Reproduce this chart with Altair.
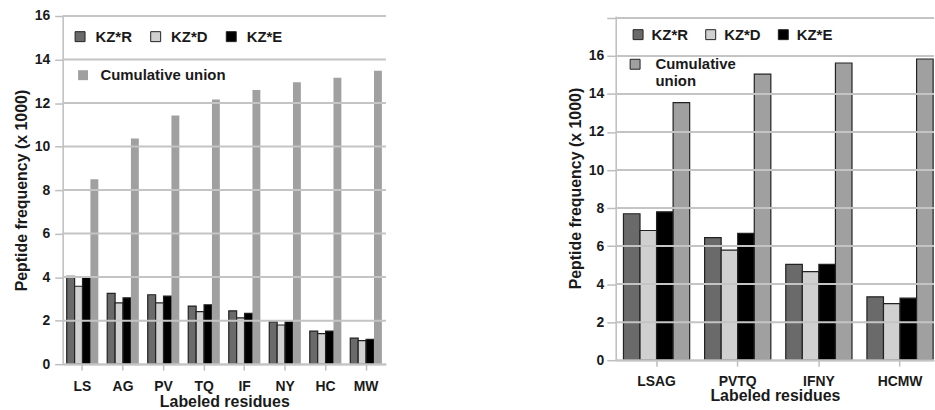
import altair as alt
import pandas as pd

series = ["KZ*R", "KZ*D", "KZ*E", "Cumulative union"]
fill_colors = ["#6a6a6a", "#d0d0d0", "#000000", "#a0a0a0"]

left_cats = ["LS", "AG", "PV", "TQ", "IF", "NY", "HC", "MW"]
left_r = [4.04, 3.25, 3.19, 2.67, 2.45, 1.94, 1.52, 1.20]
left_d = [3.58, 2.82, 2.82, 2.41, 2.13, 1.80, 1.40, 1.08]
left_e = [3.99, 3.05, 3.13, 2.73, 2.33, 1.95, 1.52, 1.14]
left_cum = [8.50, 10.37, 11.43, 12.16, 12.60, 12.96, 13.16, 13.49]
left_ticks = [0, 2, 4, 6, 8, 10, 12, 14, 16]

right_cats = ["LSAG", "PVTQ", "IFNY", "HCMW"]
right_r = [7.70, 6.44, 5.04, 3.33]
right_d = [6.82, 5.79, 4.66, 2.97]
right_e = [7.80, 6.67, 5.04, 3.26]
right_cum = [13.54, 15.04, 15.63, 15.84]
right_ticks = [0, 2, 4, 6, 8, 10, 12, 14, 16, 18]


def long_df(cats, cols, names):
    rows = []
    for s, vals in zip(names, cols):
        for c, v in zip(cats, vals):
            rows.append({"cat": c, "series": s, "value": v})
    return pd.DataFrame(rows)


l_kz = long_df(left_cats, [left_r, left_d, left_e], series[:3])
l_cu = long_df(left_cats, [left_cum], series[3:])
r_kz = long_df(right_cats, [right_r, right_d, right_e], series[:3])
r_cu = long_df(right_cats, [right_cum], series[3:])

TXT = "#1a1a1a"
GRID = "#c4c4c4"
AX = "#bdbdbd"
EDGE = "#222222"


def legend_spec(x, y, col_pad, offset, label_expr=None):
    kw = dict(
        title=None, orient="none", legendX=x, legendY=y,
        direction="horizontal", columnPadding=col_pad,
        symbolType="square", symbolSize=100, symbolStrokeWidth=1,
        labelFontSize=15, labelFontWeight="bold", labelColor=TXT,
        labelFont="Liberation Sans", labelOffset=offset, padding=0,
        labelLimit=300,
    )
    if label_expr:
        kw["labelExpr"] = label_expr
    return alt.Legend(**kw)


def panel(kz, cu, cats, ticks, xscale, xaxis, yscale, yaxis, leg1, leg2,
          cum_stroke, w, h):
    x = alt.X("cat:N", sort=cats, scale=xscale, axis=xaxis)
    xo = alt.XOffset("series:N", sort=series, scale=alt.Scale(domain=series))
    y = alt.Y("value:Q", scale=yscale, axis=yaxis)
    grid = alt.Chart(pd.DataFrame({"value": ticks})).mark_rule(
        stroke=GRID, strokeWidth=2
    ).encode(y=y, x=alt.value(0), x2=alt.value(w))
    a = alt.Chart(kz).mark_bar(stroke=EDGE, strokeWidth=1.2).encode(
        x=x, xOffset=xo, y=y,
        color=alt.Color("series:N", sort=series[:3],
                        scale=alt.Scale(domain=series[:3], range=fill_colors[:3]),
                        legend=leg1),
    )
    bkw = {}
    if cum_stroke:
        bkw.update(stroke=EDGE, strokeWidth=1.2)
    else:
        bkw.update(strokeWidth=0)
    b = alt.Chart(cu).mark_bar(**bkw).encode(
        x=x, xOffset=xo, y=y,
        fill=alt.Fill("series:N",
                      scale=alt.Scale(domain=series[3:], range=fill_colors[3:]),
                      legend=leg2),
    )
    return alt.layer(a, b, grid).properties(width=w, height=h)


left = panel(
    l_kz, l_cu, left_cats, left_ticks,
    alt.Scale(paddingInner=0.22, paddingOuter=0.1),
    alt.Axis(title="Labeled residues", labelAngle=0, grid=False,
             tickSize=6, labelPadding=9, titlePadding=1),
    alt.Scale(domain=[0, 16], nice=False),
    alt.Axis(title="Peptide frequency (x 1000)", grid=False,
             values=left_ticks, tickSize=8,
             labelPadding=5, titlePadding=5),
    legend_spec(10, 13, 16, 8),
    legend_spec(13, 52, 16, 10),
    False, 325, 350,
)

right = panel(
    r_kz, r_cu, right_cats, right_ticks,
    alt.Scale(paddingInner=0.184, paddingOuter=0.053, align=0.9),
    alt.Axis(title="Labeled residues", labelAngle=0, grid=False,
             tickSize=6, labelPadding=8, titlePadding=0),
    alt.Scale(domain=[0, 18.1], nice=False),
    alt.Axis(title="Peptide frequency (x 1000)", grid=False,
             values=right_ticks, tickSize=9,
             labelPadding=3, titlePadding=5,
             labelExpr="datum.value == 18 ? '' : datum.label"),
    legend_spec(15, 11, 15, 6),
    legend_spec(12, 41, 15, 13,
                "datum.label == 'Cumulative union' ? ['Cumulative', 'union'] : datum.label"),
    True, 320, 346,
)

chart = alt.hconcat(left, right, spacing=181).resolve_scale(
    color="independent", fill="independent", xOffset="independent"
).resolve_legend(
    color="independent", fill="independent"
).properties(
    padding={"left": 13, "top": 8, "right": 0, "bottom": 0},
).configure_view(stroke=None, fill=None).configure_axis(
    labelFont="Liberation Sans", titleFont="Liberation Sans",
    labelFontSize=14, titleFontSize=16,
    labelFontWeight="bold", titleFontWeight="bold",
    labelColor=TXT, titleColor=TXT,
    domainColor=AX, domainWidth=1.5, tickColor=AX, tickWidth=1.5,
)

chart.save("out.html", embed_options={"renderer": "svg", "actions": False})
